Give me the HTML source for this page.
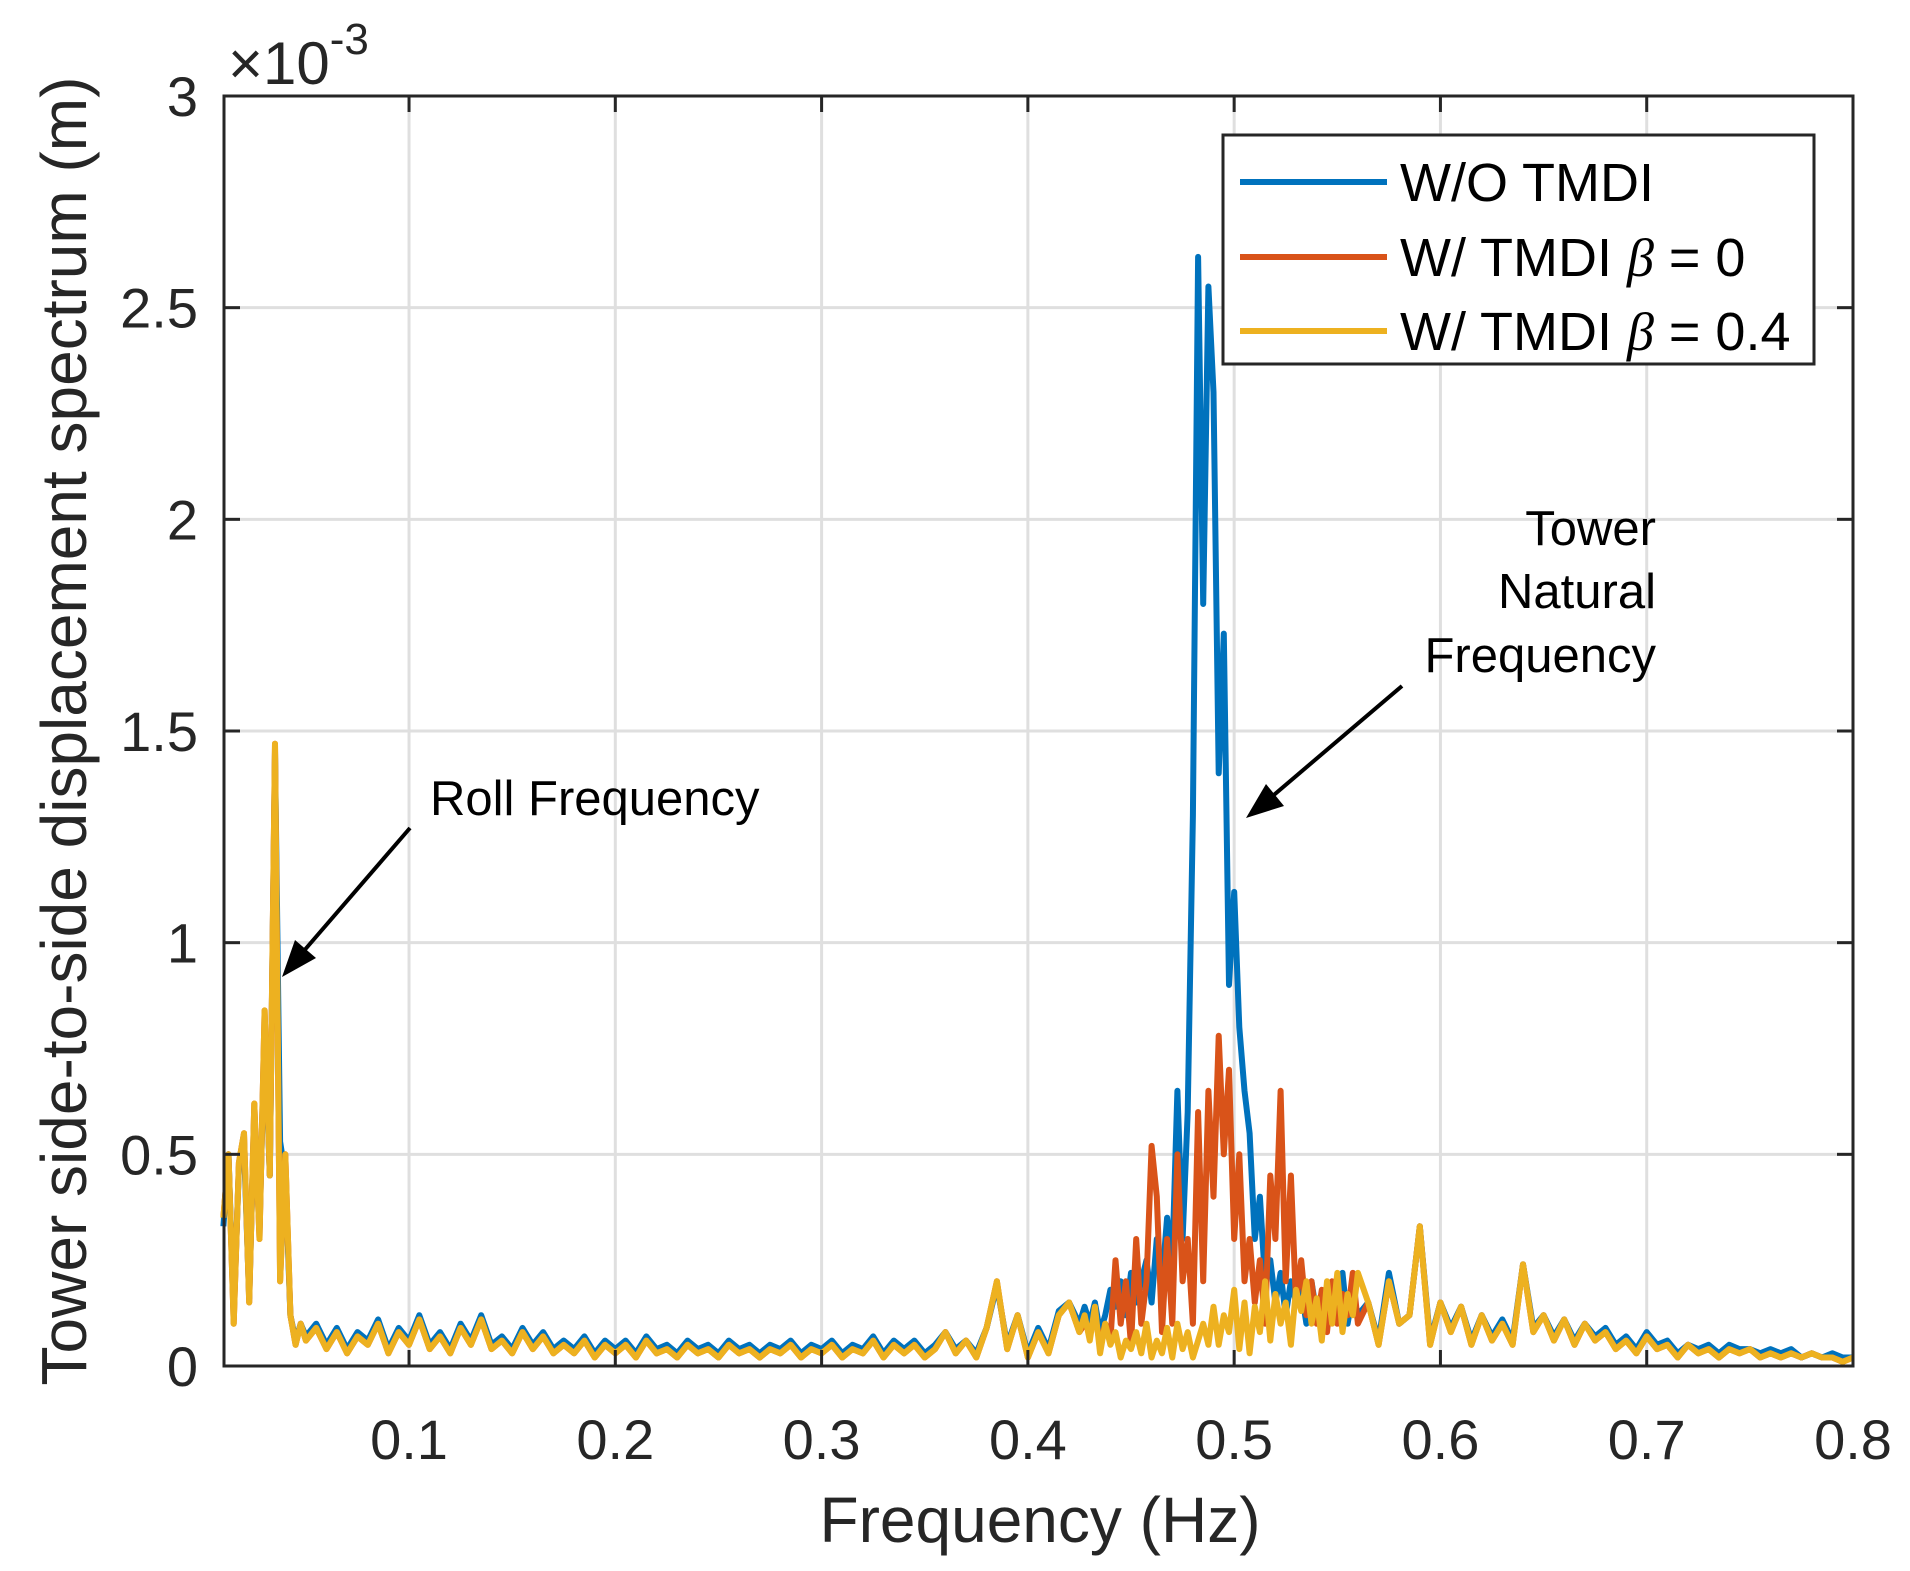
<!DOCTYPE html>
<html><head><meta charset="utf-8"><style>
html,body{margin:0;padding:0;background:#fff}
svg{display:block;font-family:"Liberation Sans",sans-serif}
</style></head><body>
<svg id="chart" width="1910" height="1571" viewBox="0 0 1910 1571" xmlns="http://www.w3.org/2000/svg">
<g id="grid"></g>
<g id="series"></g>
<rect x="224" y="96" width="1629" height="1270" fill="none" stroke="#262626" stroke-width="3"/>
<g id="ticks"></g>
<text x="228" y="84" font-size="60" fill="#262626">×10<tspan font-size="44" dy="-30">-3</tspan></text>
<text x="1040" y="1542" font-size="64" fill="#262626" text-anchor="middle">Frequency (Hz)</text>
<text transform="translate(86,731) rotate(-90)" font-size="64" fill="#262626" text-anchor="middle">Tower side-to-side displacement spectrum (m)</text>
<g>
<rect x="1223" y="135" width="591" height="229" fill="#fff" stroke="#262626" stroke-width="3"/>
<line x1="1240" y1="182" x2="1387" y2="182" stroke="#0072BD" stroke-width="6"/>
<text x="1400" y="201" font-size="54" fill="#000">W/O TMDI</text>
<line x1="1240" y1="257" x2="1387" y2="257" stroke="#D95319" stroke-width="6"/>
<text x="1400" y="276" font-size="54" fill="#000">W/ TMDI <tspan font-family="Liberation Serif" font-style="italic">β</tspan> = 0</text>
<line x1="1240" y1="331" x2="1387" y2="331" stroke="#EDB120" stroke-width="6"/>
<text x="1400" y="350" font-size="54" fill="#000">W/ TMDI <tspan font-family="Liberation Serif" font-style="italic">β</tspan> = 0.4</text>
</g>
<g>
<text x="430" y="815" font-size="49" fill="#000">Roll Frequency</text>
<line x1="410" y1="828" x2="296" y2="960" stroke="#000" stroke-width="4"/>
<polygon points="282,977 295,940 316,958" fill="#000"/>
</g>
<g>
<text font-size="49" fill="#000" text-anchor="end"><tspan x="1656" y="545">Tower</tspan><tspan x="1656" y="608">Natural</tspan><tspan x="1656" y="672">Frequency</tspan></text>
<line x1="1402" y1="686" x2="1262" y2="805" stroke="#000" stroke-width="4"/>
<polygon points="1246,818 1266,784 1284,806" fill="#000"/>
</g>
</svg>
<script>
const freqA=[0.01,0.0125,0.015,0.0175,0.02,0.0225,0.025,0.0275,0.03,0.0325,0.035,0.0375,0.04,0.0425,0.045,0.0475,0.05];
const freqB=[0.055,0.06,0.065,0.07,0.075,0.08,0.085,0.09,0.095,0.1,0.105,0.11,0.115,0.12,0.125,0.13,0.135,0.14,0.145,0.15,0.155,0.16,0.165,0.17,0.175,0.18,0.185,0.19,0.195,0.2,0.205,0.21,0.215,0.22,0.225,0.23,0.235,0.24,0.245,0.25,0.255,0.26,0.265,0.27,0.275,0.28,0.285,0.29,0.295,0.3,0.305,0.31,0.315,0.32,0.325,0.33,0.335,0.34,0.345,0.35,0.355,0.36,0.365,0.37,0.375,0.38,0.385,0.39,0.395,0.4,0.405,0.41,0.415,0.42,0.425];
const freqC=[0.4275,0.43,0.4325,0.435,0.4375,0.44,0.4425,0.445,0.4475,0.45,0.4525,0.455,0.4575,0.46,0.4625,0.465,0.4675,0.47,0.4725,0.475,0.4775,0.48,0.4825,0.485,0.4875,0.49,0.4925,0.495,0.4975,0.5,0.5025,0.505,0.5075,0.51,0.5125,0.515,0.5175,0.52,0.5225,0.525,0.5275,0.53,0.5325,0.535,0.5375,0.54,0.5425,0.545,0.5475,0.55,0.5525,0.555,0.5575,0.56];
const freqD=[0.565,0.57,0.575,0.58,0.585,0.59,0.595,0.6,0.605,0.61,0.615,0.62,0.625,0.63,0.635,0.64,0.645,0.65,0.655,0.66,0.665,0.67,0.675,0.68,0.685,0.69,0.695,0.7,0.705,0.71,0.715,0.72,0.725,0.73,0.735,0.74,0.745,0.75,0.755,0.76,0.765,0.77,0.775,0.78,0.785,0.79,0.795,0.8];
const freq=freqA.concat(freqB,freqC,freqD);
// values in units of 1e-3 m
const woTmdi=[0.33,0.5,0.12,0.47,0.52,0.16,0.6,0.32,0.8,0.45,1.45,0.53,0.45,0.12,0.06,0.1,0.07,
0.1,0.05,0.09,0.04,0.08,0.06,0.11,0.04,0.09,0.06,0.12,0.05,0.08,0.04,0.1,0.06,0.12,0.05,0.07,0.04,0.09,0.05,0.08,0.04,0.06,0.04,0.07,0.03,0.06,0.04,0.06,0.03,0.07,0.04,0.05,0.03,0.06,0.04,0.05,0.03,0.06,0.04,0.05,0.03,0.05,0.04,0.06,0.03,0.05,0.04,0.06,0.03,0.05,0.04,0.07,0.03,0.06,0.04,0.06,0.03,0.05,0.08,0.04,0.06,0.03,0.09,0.19,0.05,0.12,0.03,0.09,0.04,0.13,0.15,0.1,
0.14,0.1,0.15,0.08,0.12,0.18,0.14,0.2,0.12,0.22,0.15,0.2,0.25,0.15,0.3,0.2,0.35,0.25,0.65,0.3,0.6,1.3,2.62,1.8,2.55,2.3,1.4,1.73,0.9,1.12,0.8,0.65,0.55,0.3,0.4,0.2,0.25,0.15,0.22,0.12,0.2,0.15,0.18,0.1,0.2,0.12,0.16,0.1,0.18,0.12,0.22,0.1,0.17,0.12,
0.15,0.06,0.22,0.1,0.12,0.33,0.06,0.15,0.09,0.14,0.06,0.12,0.07,0.11,0.06,0.24,0.09,0.12,0.07,0.11,0.06,0.1,0.07,0.09,0.05,0.07,0.04,0.08,0.05,0.06,0.03,0.05,0.04,0.05,0.03,0.05,0.04,0.04,0.03,0.04,0.03,0.04,0.02,0.03,0.02,0.03,0.02,0.02];
const beta0=[0.35,0.5,0.1,0.48,0.55,0.15,0.62,0.3,0.84,0.45,1.47,0.2,0.5,0.12,0.05,0.1,0.06,
0.09,0.04,0.08,0.03,0.07,0.05,0.10,0.03,0.08,0.05,0.11,0.04,0.07,0.03,0.09,0.05,0.11,0.04,0.06,0.03,0.08,0.04,0.07,0.03,0.05,0.03,0.06,0.02,0.05,0.03,0.05,0.02,0.06,0.03,0.04,0.02,0.05,0.03,0.04,0.02,0.05,0.03,0.04,0.02,0.04,0.03,0.05,0.02,0.04,0.03,0.05,0.02,0.04,0.03,0.06,0.02,0.05,0.03,0.05,0.02,0.04,0.08,0.03,0.06,0.02,0.09,0.2,0.04,0.12,0.02,0.08,0.03,0.12,0.15,0.08,
0.1,0.08,0.12,0.05,0.1,0.06,0.25,0.1,0.2,0.05,0.3,0.1,0.2,0.52,0.4,0.08,0.3,0.1,0.5,0.2,0.3,0.1,0.6,0.2,0.65,0.4,0.78,0.5,0.7,0.3,0.5,0.2,0.3,0.15,0.25,0.1,0.45,0.3,0.65,0.2,0.45,0.15,0.25,0.12,0.2,0.1,0.18,0.08,0.2,0.1,0.17,0.12,0.22,0.1,
0.15,0.05,0.2,0.1,0.12,0.33,0.05,0.15,0.08,0.14,0.05,0.12,0.06,0.1,0.05,0.24,0.08,0.12,0.06,0.11,0.05,0.1,0.06,0.08,0.04,0.06,0.03,0.07,0.04,0.05,0.02,0.05,0.03,0.04,0.02,0.04,0.03,0.04,0.02,0.03,0.02,0.03,0.02,0.03,0.02,0.02,0.01,0.02];
const beta04=[0.35,0.5,0.1,0.48,0.55,0.15,0.62,0.3,0.84,0.45,1.47,0.2,0.5,0.12,0.05,0.1,0.06,
0.09,0.04,0.08,0.03,0.07,0.05,0.10,0.03,0.08,0.05,0.11,0.04,0.07,0.03,0.09,0.05,0.11,0.04,0.06,0.03,0.08,0.04,0.07,0.03,0.05,0.03,0.06,0.02,0.05,0.03,0.05,0.02,0.06,0.03,0.04,0.02,0.05,0.03,0.04,0.02,0.05,0.03,0.04,0.02,0.04,0.03,0.05,0.02,0.04,0.03,0.05,0.02,0.04,0.03,0.06,0.02,0.05,0.03,0.05,0.02,0.04,0.08,0.03,0.06,0.02,0.09,0.2,0.04,0.12,0.02,0.08,0.03,0.12,0.15,0.08,
0.12,0.06,0.14,0.03,0.1,0.05,0.08,0.02,0.06,0.04,0.08,0.03,0.1,0.02,0.06,0.03,0.09,0.02,0.1,0.04,0.08,0.02,0.06,0.1,0.05,0.14,0.05,0.12,0.08,0.18,0.04,0.15,0.03,0.14,0.08,0.2,0.06,0.17,0.1,0.15,0.05,0.18,0.13,0.2,0.1,0.16,0.06,0.2,0.1,0.22,0.08,0.17,0.12,0.22,
0.15,0.05,0.2,0.1,0.12,0.33,0.05,0.15,0.08,0.14,0.05,0.12,0.06,0.1,0.05,0.24,0.08,0.12,0.06,0.11,0.05,0.1,0.06,0.08,0.04,0.06,0.03,0.07,0.04,0.05,0.02,0.05,0.03,0.04,0.02,0.04,0.03,0.04,0.02,0.03,0.02,0.03,0.02,0.03,0.02,0.02,0.01,0.02];
const xTicks=[0.1,0.2,0.3,0.4,0.5,0.6,0.7,0.8];
const xTickLabels=["0.1","0.2","0.3","0.4","0.5","0.6","0.7","0.8"];
const yTicks=[0,0.5,1,1.5,2,2.5,3];
const yTickLabels=["0","0.5","1","1.5","2","2.5","3"];

const X0=224,X1=1853,Y0=1366,Y1=96,XMIN=0.0103,XMAX=0.8,YMIN=0,YMAX=3;
const sx=v=>X0+(v-XMIN)/(XMAX-XMIN)*(X1-X0);
const sy=v=>Y0-(v-YMIN)/(YMAX-YMIN)*(Y0-Y1);
const NS="http://www.w3.org/2000/svg";
function mk(tag,attrs,parent){const e=document.createElementNS(NS,tag);for(const k in attrs)e.setAttribute(k,attrs[k]);parent.appendChild(e);return e;}
const grid=document.getElementById('grid'),ticks=document.getElementById('ticks'),series=document.getElementById('series');
xTicks.forEach((t,i)=>{
  const g=mk('line',{x1:sx(t),x2:sx(t),y1:Y1,y2:Y0,stroke:'#dfdfdf','stroke-width':3},grid);
  
  
  const a=mk('line',{x1:sx(t),x2:sx(t),y1:Y0,y2:Y0-16,stroke:'#262626','stroke-width':3},ticks);
  
  
  const b=mk('line',{x1:sx(t),x2:sx(t),y1:Y1,y2:Y1+16,stroke:'#262626','stroke-width':3},ticks);
  
  
  const l=mk('text',{x:sx(t),y:1459,'font-size':56,fill:'#262626','text-anchor':'middle'},ticks);
  
  
  l.textContent=xTickLabels[i];
});
yTicks.forEach((t,i)=>{
  const g=mk('line',{x1:X0,x2:X1,y1:sy(t),y2:sy(t),stroke:'#dfdfdf','stroke-width':3},grid);
  
  
  const a=mk('line',{x1:X0,x2:X0+16,y1:sy(t),y2:sy(t),stroke:'#262626','stroke-width':3},ticks);
  
  
  const b=mk('line',{x1:X1,x2:X1-16,y1:sy(t),y2:sy(t),stroke:'#262626','stroke-width':3},ticks);
  
  
  const l=mk('text',{x:198,y:sy(t)+20,'font-size':56,fill:'#262626','text-anchor':'end'},ticks);
  
  
  l.textContent=yTickLabels[i];
});
function drawLine(vals,color,name){
  const n=Math.min(freq.length,vals.length);let d='';
  for(let i=0;i<n;i++)d+=(i?'L':'M')+sx(freq[i]).toFixed(1)+','+sy(vals[i]).toFixed(1);
  const p=mk('path',{d:d,fill:'none',stroke:color,'stroke-width':6,'stroke-linejoin':'round'},series);
  
  
}
drawLine(woTmdi,'#0072BD','line-wo-tmdi');
drawLine(beta0,'#D95319','line-tmdi-beta-0');
drawLine(beta04,'#EDB120','line-tmdi-beta-04');
</script>
</body></html>
